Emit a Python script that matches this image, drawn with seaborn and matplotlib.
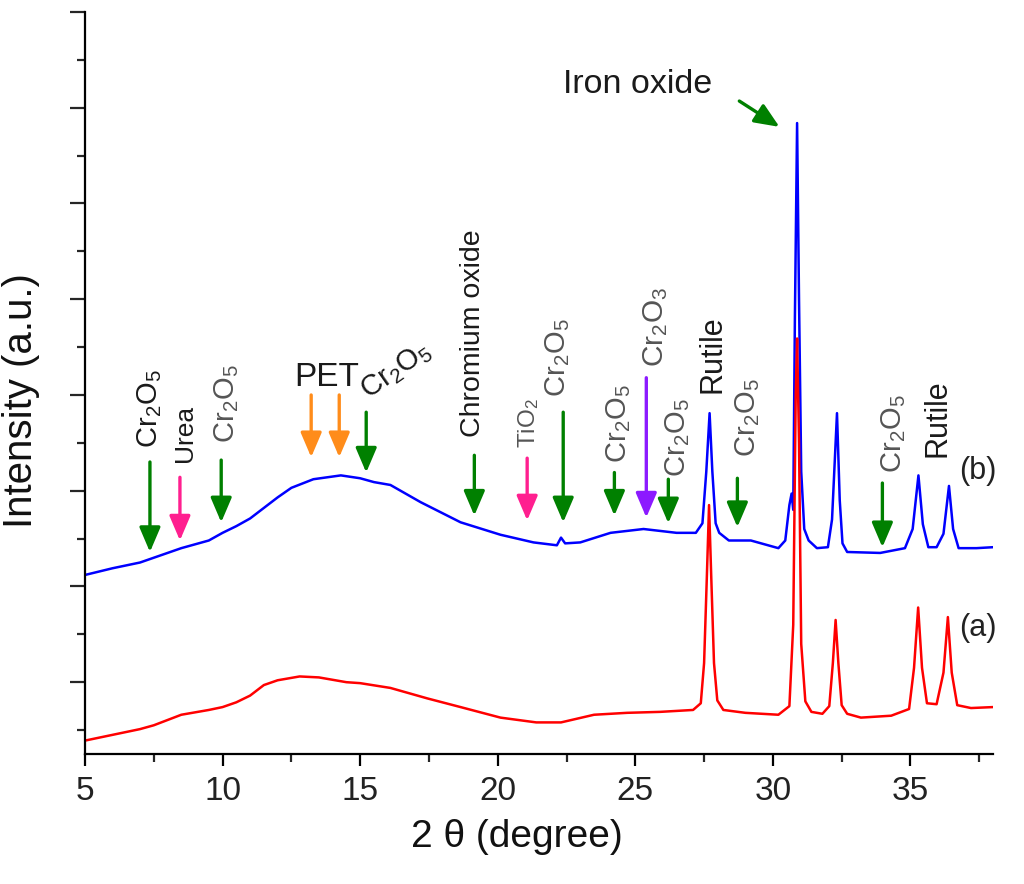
import matplotlib
matplotlib.use("Agg")
import matplotlib.pyplot as plt
import seaborn as sns
import numpy as np
import pandas as pd
from matplotlib.ticker import MultipleLocator

# ---------------- data ----------------
# sample (a) – red trace
a_two_theta = [5.0, 6.0, 7.0, 7.5, 8.5, 9.5, 10.0, 10.5, 11.0, 11.5, 12.0, 12.8, 13.5, 14.5,
               15.0, 16.1, 17.45, 18.65, 20.1, 21.4, 22.3, 23.5, 24.7, 25.9, 27.1, 27.38,
               27.5, 27.6, 27.68, 27.76, 27.86, 27.98, 28.2, 29.0, 30.2, 30.6, 30.74, 30.83,
               30.88, 30.95, 31.03, 31.18, 31.4, 31.8, 32.05, 32.18, 32.28, 32.38, 32.5, 32.7,
               33.2, 34.3, 34.95, 35.13, 35.28, 35.42, 35.6, 35.95, 36.2, 36.36, 36.5, 36.7,
               37.2, 38.0]
a_intensity = [-0.61, -0.55, -0.49, -0.45, -0.34, -0.29, -0.26, -0.21, -0.14, -0.03, 0.02, 0.06,
               0.05, 0.00, -0.01, -0.06, -0.17, -0.26, -0.37, -0.42, -0.42, -0.34, -0.32, -0.31,
               -0.29, -0.22, 0.20, 1.10, 1.85, 1.10, 0.20, -0.19, -0.29, -0.32, -0.34, -0.25,
               0.60, 3.00, 3.59, 2.50, 0.40, -0.20, -0.31, -0.33, -0.25, 0.20, 0.65, 0.20,
               -0.24, -0.33, -0.37, -0.35, -0.28, 0.15, 0.78, 0.15, -0.22, -0.23, 0.10, 0.68,
               0.10, -0.24, -0.27, -0.26]

# sample (b) – blue trace
b_two_theta = [5.0, 6.0, 7.0, 7.5, 8.5, 9.5, 10.0, 10.5, 11.0, 11.5, 12.0, 12.5, 13.3, 14.3,
               15.0, 15.5, 16.1, 17.2, 18.65, 20.1, 21.3, 22.15, 22.3, 22.45, 23.0, 24.1, 25.3,
               26.5, 27.2, 27.44, 27.58, 27.7, 27.8, 27.92, 28.05, 28.4, 29.2, 30.2, 30.45,
               30.6, 30.68, 30.74, 30.8, 30.88, 30.95, 31.03, 31.14, 31.3, 31.6, 32.0, 32.15,
               32.33, 32.43, 32.53, 32.7, 33.9, 34.8, 35.08, 35.29, 35.45, 35.65, 35.95, 36.2,
               36.4, 36.55, 36.75, 37.4, 38.0]
b_intensity = [1.12, 1.19, 1.25, 1.30, 1.40, 1.48, 1.56, 1.63, 1.71, 1.82, 1.93, 2.03, 2.12, 2.16,
               2.13, 2.09, 2.06, 1.88, 1.67, 1.54, 1.46, 1.43, 1.51, 1.45, 1.46, 1.56, 1.60,
               1.56, 1.56, 1.66, 2.20, 2.81, 2.20, 1.66, 1.56, 1.48, 1.48, 1.40, 1.48,
               1.85, 1.97, 1.80, 3.80, 5.84, 4.00, 2.20, 1.60, 1.48, 1.40, 1.41, 1.70,
               2.81, 1.90, 1.45, 1.36, 1.35, 1.40, 1.60, 2.16, 1.65, 1.41, 1.41, 1.55,
               2.05, 1.60, 1.40, 1.40, 1.41]

# phase annotations: label and 2-theta of the marked reflection
phase_labels = [r"$Cr_2O_5$", "Urea", r"$Cr_2O_5$", r"$Cr_2O_5$", "Chromium oxide",
                r"$TiO_2$", r"$Cr_2O_5$", r"$Cr_2O_5$", r"$Cr_2O_3$", r"$Cr_2O_5$",
                r"$Cr_2O_5$", r"$Cr_2O_5$"]
phase_two_theta = [7.36, 8.45, 9.95, 15.22, 19.15, 21.07, 22.38, 24.24, 25.40, 26.20, 28.71, 33.98]
pet_two_theta = [13.22, 14.24]
x_ticks = [5, 10, 15, 20, 25, 30, 35]

# ---------------- layout / style ----------------
GREEN = "#008000"
PINK = "#ff1f8f"
ORANGE = "#ff8c1a"
PURPLE = "#8c1aff"
DARK = "#1a1a1a"
GRAY = "#555555"

arrow_colors = [GREEN, PINK, GREEN, GREEN, GREEN, PINK, GREEN, GREEN, PURPLE, GREEN, GREEN, GREEN]
arrow_tail = [2.30, 2.14, 2.32, 2.82, 2.37, 2.34, 2.82, 2.19, 3.18, 2.12, 2.13, 2.08]
arrow_head = [1.36, 1.48, 1.67, 2.19, 1.74, 1.69, 1.67, 1.74, 1.72, 1.66, 1.62, 1.41]
text_x = [7.36, 8.64, 10.16, 15.3, 19.11, 21.11, 22.16, 24.38, 25.73, 26.53, 29.07, 34.38]
text_y = [2.45, 2.30, 2.50, 2.95, 2.56, 2.45, 2.98, 2.29, 3.29, 2.14, 2.35, 2.18]
text_colors = [DARK, DARK, GRAY, DARK, DARK, GRAY, GRAY, GRAY, GRAY, GRAY, GRAY, GRAY]
text_sizes = [21, 19, 21, 21, 20.5, 17.5, 21, 21, 21.5, 21, 21, 21]

sns.set_theme(style="ticks")
plt.rcParams["font.family"] = ["Liberation Sans", "DejaVu Sans"]
plt.rcParams["mathtext.default"] = "regular"

fig = plt.figure(figsize=(10.24, 8.84), dpi=100)
ax = fig.add_axes([85 / 1024, 130 / 884, 908 / 1024, 742 / 884])

sns.lineplot(x=b_two_theta, y=b_intensity, color="#0000ff", lw=1.8, ax=ax,
             sort=False, estimator=None)
sns.lineplot(x=a_two_theta, y=a_intensity, color="#ff0000", lw=1.8, ax=ax,
             sort=False, estimator=None)

ax.set_xlim(5, 38)
ax.set_ylim(-0.75, 7.0)
ax.set_xticks(x_ticks)
ax.xaxis.set_minor_locator(MultipleLocator(2.5))
ax.yaxis.set_major_locator(MultipleLocator(1))
ax.yaxis.set_minor_locator(MultipleLocator(0.5))
ax.set_yticklabels([])

for s in ["top", "right"]:
    ax.spines[s].set_visible(False)
for s in ["left", "bottom"]:
    ax.spines[s].set_linewidth(1.6)
    ax.spines[s].set_color("black")

ax.tick_params(axis="x", which="major", direction="out", length=8.6, width=1.6,
               labelsize=24, pad=7, colors="black")
ax.tick_params(axis="x", which="minor", direction="out", length=5.8, width=1.6)
ax.tick_params(axis="y", which="major", direction="out", length=10.8, width=1.6)
ax.tick_params(axis="y", which="minor", direction="out", length=5.8, width=1.6)
for lab in ax.get_xticklabels():
    lab.set_color("#222222")

ax.set_xlabel("2 θ (degree)", fontsize=28, color="#111111", labelpad=9)
ax.set_ylabel("Intensity (a.u.)", fontsize=29, color="#111111", labelpad=18)
ax.xaxis.label.set_x(0.476)
ax.yaxis.label.set_y(0.477)


def draw_arrow(x0, y0, x1, y1, color):
    ax.annotate("", xy=(x1, y1), xytext=(x0, y0),
                arrowprops=dict(arrowstyle="-|>,head_length=0.75,head_width=0.32",
                                color=color, lw=2.4, mutation_scale=20,
                                shrinkA=0, shrinkB=0), zorder=5)


for i, lab in enumerate(phase_labels):
    x = phase_two_theta[i]
    draw_arrow(x, arrow_tail[i], x, arrow_head[i], arrow_colors[i])
    if i == 3:
        ax.text(text_x[i], text_y[i], lab, rotation=35, rotation_mode="anchor",
                ha="left", va="baseline", fontsize=text_sizes[i], color=text_colors[i])
    else:
        ax.text(text_x[i], text_y[i], lab, rotation=90, ha="center", va="bottom",
                fontsize=text_sizes[i], color=text_colors[i])

for x in pet_two_theta:
    draw_arrow(x, 3.00, x, 2.35, ORANGE)
ax.text(13.8, 3.18, "PET", ha="center", va="center", fontsize=24, color=DARK)

ax.text(27.8, 3.02, "Rutile", rotation=90, ha="center", va="bottom", fontsize=22, color=DARK)
ax.text(35.98, 2.35, "Rutile", rotation=90, ha="center", va="bottom", fontsize=22, color=DARK)

ax.text(25.07, 6.24, "Iron oxide", ha="center", va="center", fontsize=24.5, color=DARK)
draw_arrow(28.78, 6.07, 30.24, 5.80, GREEN)

ax.text(37.44, 2.21, "(b)", ha="center", va="center", fontsize=22, color="#222222")
ax.text(37.44, 0.57, "(a)", ha="center", va="center", fontsize=22, color="#222222")

fig.savefig("out.png", dpi=100)
